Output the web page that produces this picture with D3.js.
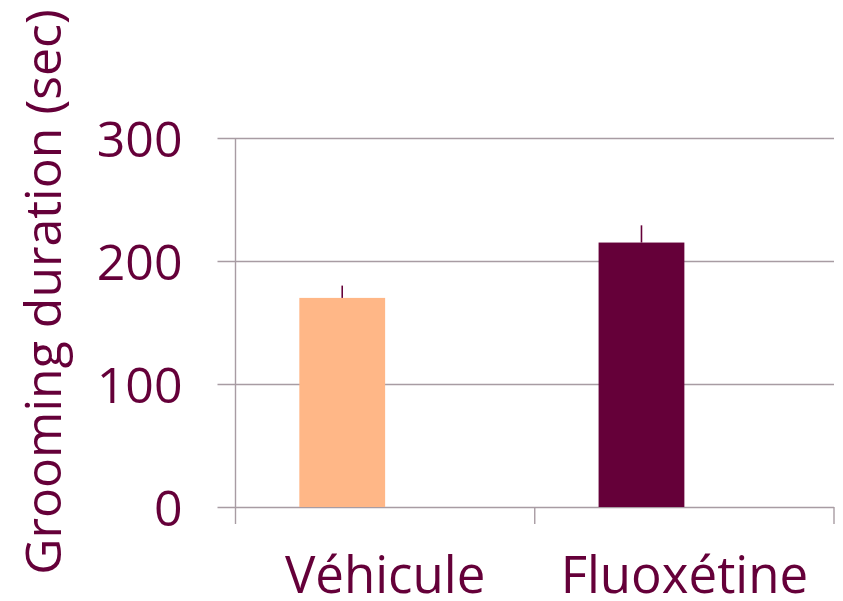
<!DOCTYPE html>
<html>
<head>
<meta charset="utf-8">
<script src="https://cdn.jsdelivr.net/npm/d3@7"></script>
<style>
  html, body { margin: 0; padding: 0; background: #ffffff; }
  svg { display: block; }
  text { font-family: "Open Sans", sans-serif; fill: #650039; }
</style>
</head>
<body>
<svg id="chart" width="843" height="601"></svg>
<script>
// Grooming duration per treatment group (mean and standard error, seconds)
const categories = ["Véhicule", "Fluoxétine"];
const means = [170, 215];
const errors = [10, 14];
const barColors = ["#FFB787", "#650039"];
const yTicks = [0, 100, 200, 300];
const yTitle = "Grooming duration (sec)";

const data = categories.map((c, i) => ({ category: c, mean: means[i], err: errors[i], color: barColors[i] }));

const svg = d3.select("#chart");
const plot = { left: 235.5, right: 834, top: 138, bottom: 507 };
const gridColor = "#a89ca3";
const ink = "#650039";

const x = d3.scaleBand().domain(categories).range([plot.left, plot.right]).paddingInner(0).paddingOuter(0);
// each category holds two series slots; the measured series occupies the first slot
const slot = d3.scaleBand().domain(["mean", "blank"]).range([0, x.bandwidth()]).paddingInner(0).paddingOuter(0.744);
const y = d3.scaleLinear().domain([0, 300]).range([plot.bottom, plot.top]);

// horizontal gridlines with left tick stubs
const yAxis = d3.axisLeft(y).tickValues(yTicks).tickSize(plot.right - plot.left + 18).tickFormat(d3.format("d"));
const gy = svg.append("g").attr("transform", `translate(${plot.right},0)`).call(yAxis);
gy.select(".domain").remove();
gy.selectAll(".tick line").attr("stroke", gridColor).attr("stroke-width", 1.4);
gy.selectAll(".tick text")
  .attr("x", -(plot.right - plot.left) - 53)
  .attr("dy", null)
  .attr("y", 18)
  .attr("text-anchor", "end")
  .style("font-size", "50px")
  .style("fill", ink);

// vertical axis line
svg.append("line")
  .attr("x1", plot.left).attr("x2", plot.left)
  .attr("y1", plot.top).attr("y2", plot.bottom)
  .attr("stroke", gridColor).attr("stroke-width", 1.4);

// category tick marks below the baseline
const tickXs = categories.map(c => x(c)).concat([x(categories[categories.length - 1]) + x.bandwidth()]);
svg.append("g").selectAll("line").data(tickXs).join("line")
  .attr("x1", d => d).attr("x2", d => d)
  .attr("y1", plot.bottom).attr("y2", plot.bottom + 17)
  .attr("stroke", gridColor).attr("stroke-width", 1.4);

// bars
svg.append("g").selectAll("rect").data(data).join("rect")
  .attr("x", d => x(d.category) + slot("mean"))
  .attr("width", slot.bandwidth())
  .attr("y", d => y(d.mean))
  .attr("height", d => y(0) - y(d.mean))
  .attr("fill", d => d.color);

// upper error bars
svg.append("g").selectAll("line").data(data).join("line")
  .attr("x1", d => x(d.category) + slot("mean") + slot.bandwidth() / 2)
  .attr("x2", d => x(d.category) + slot("mean") + slot.bandwidth() / 2)
  .attr("y1", d => y(d.mean))
  .attr("y2", d => y(d.mean + d.err))
  .attr("stroke", ink).attr("stroke-width", 1.6);

// category labels
svg.append("g").selectAll("text").data(categories).join("text")
  .attr("x", d => x(d) + x.bandwidth() / 2)
  .attr("y", 593)
  .attr("text-anchor", "middle")
  .style("font-size", "51px")
  .text(d => d);

// y-axis title
svg.append("text")
  .attr("transform", "translate(61,292) rotate(-90)")
  .attr("text-anchor", "middle")
  .style("font-size", "50px")
  .text(yTitle);
</script>
</body>
</html>
